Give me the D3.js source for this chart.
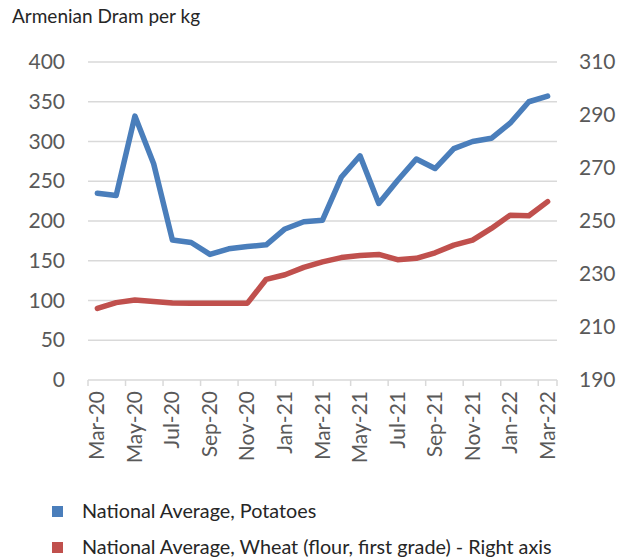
<!DOCTYPE html>
<html>
<head>
<meta charset="utf-8">
<script src="https://d3js.org/d3.v7.min.js"></script>
<style>
  body { margin: 0; background: #fff; }
  svg text { font-family: Lato, "Open Sans", sans-serif; }
  .grid line { stroke: #d9d9d9; stroke-width: 1.5; }
  .tick-label { fill: #595959; font-size: 21px; }
</style>
</head>
<body>
<script>
// months Mar-20 .. Mar-22
var months = ["Mar-20","Apr-20","May-20","Jun-20","Jul-20","Aug-20","Sep-20","Oct-20","Nov-20","Dec-20",
              "Jan-21","Feb-21","Mar-21","Apr-21","May-21","Jun-21","Jul-21","Aug-21","Sep-21","Oct-21",
              "Nov-21","Dec-21","Jan-22","Feb-22","Mar-22"];
var potatoes = [235, 232, 332, 272, 176, 173, 158, 165, 168, 170,
                190, 199, 201, 255, 282, 222, 251, 278, 266, 291,
                300, 304, 323, 350, 357];
var wheat = [217, 219.2, 220.2, 219.6, 219.1, 219, 219, 219, 219, 228,
             229.7, 232.5, 234.6, 236.2, 237, 237.4, 235.4, 235.9, 238, 240.9,
             242.8, 247.2, 252.2, 252, 257.3];
var leftTicks = [0, 50, 100, 150, 200, 250, 300, 350, 400];
var rightTicks = [190, 210, 230, 250, 270, 290, 310];

var W = 630, H = 559;
var svg = d3.select("body").append("svg").attr("width", W).attr("height", H);

var x = d3.scaleBand().domain(months).range([88, 557]);
var yL = d3.scaleLinear().domain([0, 400]).range([380, 62]);
var yR = d3.scaleLinear().domain([190, 310]).range([380, 62]);

// title
svg.append("text").attr("x", 12).attr("y", 23)
  .attr("font-size", 19).attr("fill", "#262626")
  .text("Armenian Dram per kg");

// gridlines
svg.append("g").attr("class", "grid")
  .selectAll("line").data(leftTicks.slice(1)).enter().append("line")
  .attr("x1", 88).attr("x2", 557)
  .attr("y1", function(d) { return yL(d); })
  .attr("y2", function(d) { return yL(d); });

// left axis
var left = d3.axisLeft(yL).tickValues(leftTicks).tickSize(0).tickPadding(23);
var gl = svg.append("g").attr("transform", "translate(88,0)").call(left);
gl.select(".domain").remove();
gl.selectAll("text").attr("class", "tick-label").attr("font-family", null).attr("font-size", null);

// right axis
var right = d3.axisRight(yR).tickValues(rightTicks).tickSize(0).tickPadding(22);
var gr = svg.append("g").attr("transform", "translate(557,0)").call(right);
gr.select(".domain").remove();
gr.selectAll("text").attr("class", "tick-label").attr("font-family", null).attr("font-size", null);

// bottom axis
var every2 = months.filter(function(d, i) { return i % 2 == 0; });
var gb = svg.append("g").attr("transform", "translate(0,380)");
gb.append("line").attr("x1", 88).attr("x2", 557).attr("y1", 0).attr("y2", 0)
  .attr("stroke", "#d9d9d9").attr("stroke-width", 1.5);
gb.selectAll("line.tk").data(every2.concat(["end"])).enter().append("line")
  .attr("class", "tk")
  .attr("x1", function(d) { return d == "end" ? x.range()[1] : x(d); })
  .attr("x2", function(d) { return d == "end" ? x.range()[1] : x(d); })
  .attr("y1", 0).attr("y2", 6)
  .attr("stroke", "#d9d9d9").attr("stroke-width", 1.5);
gb.selectAll("text").data(every2).enter().append("text")
  .attr("class", "tick-label")
  .attr("text-anchor", "end")
  .attr("transform", function(d) {
    return "translate(" + (x(d) + x.bandwidth() / 2 + 7) + ",11) rotate(-90)";
  })
  .text(function(d) { return d; });

// lines
var cx = function(d, i) { return x(months[i]) + x.bandwidth() / 2; };
var lineL = d3.line().x(cx).y(function(d) { return yL(d); });
var lineR = d3.line().x(cx).y(function(d) { return yR(d); });

svg.append("path").datum(wheat).attr("d", lineR)
  .attr("fill", "none").attr("stroke", "#c0504d").attr("stroke-width", 5.5)
  .attr("stroke-linejoin", "round").attr("stroke-linecap", "round");
svg.append("path").datum(potatoes).attr("d", lineL)
  .attr("fill", "none").attr("stroke", "#4a7ebb").attr("stroke-width", 5.5)
  .attr("stroke-linejoin", "round").attr("stroke-linecap", "round");

// legend
var legend = [
  { name: "National Average, Potatoes", color: "#4a7ebb", y: 512 },
  { name: "National Average, Wheat (flour, first grade) - Right axis", color: "#c0504d", y: 548 }
];
var lg = svg.selectAll("g.legend").data(legend).enter().append("g").attr("class", "legend");
lg.append("rect").attr("x", 52).attr("y", function(d) { return d.y - 6; })
  .attr("width", 11).attr("height", 11).attr("fill", function(d) { return d.color; });
lg.append("text").attr("x", 82).attr("y", function(d) { return d.y + 6; })
  .attr("font-size", 19.8).attr("fill", "#262626")
  .text(function(d) { return d.name; });
</script>
</body>
</html>
